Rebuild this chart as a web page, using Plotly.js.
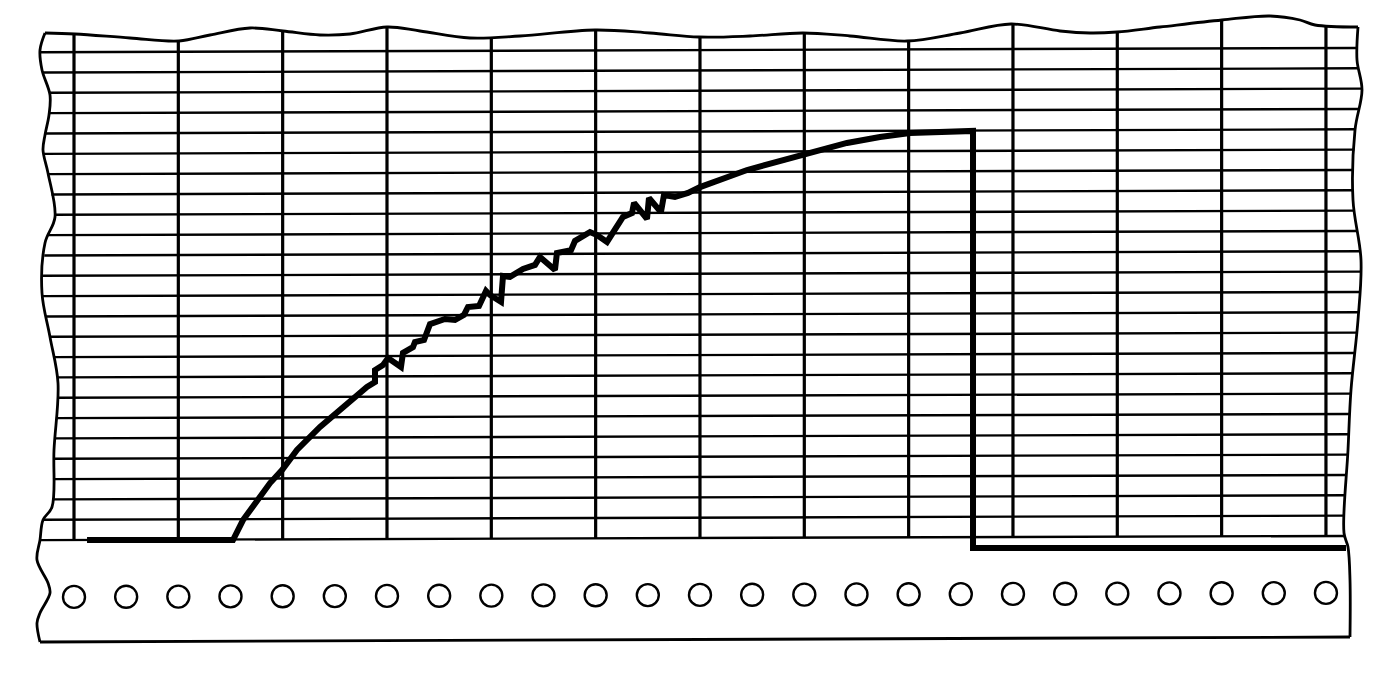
<!DOCTYPE html>
<html>
<head>
<meta charset="utf-8">
<script src="https://cdn.plot.ly/plotly-3.0.1.min.js"></script>
<style>html,body{margin:0;padding:0;background:#fff;}#chart{width:1392px;height:680px;}</style>
</head>
<body>
<div id="chart"></div>
<script>
// ---- Recorded pen trace (x: chart divisions, y: minor chart lines) ----
const recTime = [0.125,1.524,1.620,1.754,1.879,1.994,2.137,2.358,2.578,2.808,2.885,2.885,2.962,3.010,3.134,3.153,3.249,3.268,3.355,3.412,3.556,3.652,3.738,3.776,3.882,3.949,3.987,4.093,4.112,4.179,4.304,4.419,4.466,4.610,4.629,4.764,4.802,4.946,5.013,5.109,5.262,5.348,5.368,5.492,5.511,5.626,5.655,5.760,5.885,6.000,6.451,6.987,7.409,7.725,8.013,8.617,8.617,12.192];
const penLevel = [0,0,0.98,1.97,2.80,3.44,4.43,5.56,6.54,7.53,7.77,8.36,8.61,8.95,8.51,9.20,9.49,9.74,9.84,10.62,10.87,10.82,11.07,11.46,11.51,12.25,12.05,11.71,12.99,12.94,13.33,13.53,13.92,13.28,14.12,14.26,14.71,15.15,15.00,14.66,15.89,16.08,16.58,15.79,16.82,16.13,16.97,16.87,17.07,17.36,18.20,18.94,19.53,19.82,20.02,20.12,-0.39,-0.39];

// ---- Chart paper grid ----
const majorDivisions = [0,1,2,3,4,5,6,7,8,9,10,11,12];
const minorLines = [0,1,2,3,4,5,6,7,8,9,10,11,12,13,14,15,16,17,18,19,20,21,22,23,24];
const sprocketHoles = [0,0.5,1,1.5,2,2.5,3,3.5,4,4.5,5,5.5,6,6.5,7,7.5,8,8.5,9,9.5,10,10.5,11,11.5,12];
const holeLevel = -2.80;
const paperSkew = 0.0164; // scan rotation, lines per division

// ---- Torn paper outline (screen pixel sketch of the strip edges) ----
const topEdgePx = [[45,33],[75,34],[130,38],[179,41],[210,35],[250,28],[283,31],[320,35],[350,34],[387,27],[420,31],[470,38],[520,36],[595,30],[650,33],[699,37],[750,36],[803,33],[850,36],[907,41],[960,33],[1011,24],[1060,31],[1090,33],[1117,32],[1160,27],[1222,20],[1270,16],[1300,20],[1315,25],[1358,27]];
const leftEdgePx = [[45,33],[40,50],[42,70],[50,95],[49,115],[45,135],[43,150],[48,173],[55,217],[45,243],[42,293],[50,337],[58,383],[54,450],[52,507],[43,520],[40,540],[37,560],[48,583],[50,593],[40,613],[37,623],[40,642]];
const rightEdgePx = [[1358,27],[1357,60],[1362,90],[1355,130],[1353,200],[1361,260],[1358,320],[1351,390],[1348,450],[1344,533],[1348,547],[1350,580],[1350,637]];
const bottomEdgePx = [[40,642],[1350,637]];

const PX0 = 74, PXU = 104.33, PY0 = 540, PYU = 20.33;
const ux = px => (px - PX0) / PXU;
const uy = py => (PY0 - py) / PYU;

function edgeXAt(edge, py) {
  for (let i = 0; i < edge.length - 1; i++) {
    const a = edge[i], b = edge[i + 1];
    if (py >= a[1] && py <= b[1]) {
      const t = (py - a[1]) / ((b[1] - a[1]) || 1);
      return a[0] + t * (b[0] - a[0]);
    }
  }
  return edge[py < edge[0][1] ? 0 : edge.length - 1][0];
}
function topYAt(px) {
  for (let i = 0; i < topEdgePx.length - 1; i++) {
    const a = topEdgePx[i], b = topEdgePx[i + 1];
    if (px >= a[0] && px <= b[0]) {
      const t = (px - a[0]) / ((b[0] - a[0]) || 1);
      return a[1] + t * (b[1] - a[1]);
    }
  }
  return topEdgePx[0][1];
}

const shapes = [];
// horizontal minor lines
minorLines.forEach(k => {
  const pyL = PY0 - k * PYU + (PX0 - 40) * paperSkew * PYU / PXU;
  const xl = edgeXAt(leftEdgePx, pyL);
  const pyR = PY0 - k * PYU - (1350 - PX0) * paperSkew * PYU / PXU;
  const xr = edgeXAt(rightEdgePx, pyR);
  const x0 = ux(xl), x1 = ux(xr);
  shapes.push({type: 'line', xref: 'x', yref: 'y', x0: x0, x1: x1,
    y0: k + paperSkew * x0, y1: k + paperSkew * x1,
    line: {color: '#000', width: 2.4}});
});
// vertical major lines
majorDivisions.forEach(d => {
  const px = PX0 + d * PXU;
  shapes.push({type: 'line', xref: 'x', yref: 'y', x0: d, x1: d,
    y0: paperSkew * d, y1: uy(topYAt(px)),
    line: {color: '#000', width: 3.2}});
});

const edgeTrace = (pts, shape) => ({
  x: pts.map(p => ux(p[0])), y: pts.map(p => uy(p[1])),
  type: 'scatter', mode: 'lines', hoverinfo: 'skip', showlegend: false,
  line: {color: '#000', width: 2.8, shape: shape, smoothing: 1}
});

const data = [
  edgeTrace(topEdgePx, 'spline'),
  edgeTrace(leftEdgePx, 'spline'),
  edgeTrace(rightEdgePx, 'spline'),
  edgeTrace(bottomEdgePx, 'linear'),
  {
    x: sprocketHoles, y: sprocketHoles.map(x => holeLevel + paperSkew * x),
    type: 'scatter', mode: 'markers', hoverinfo: 'skip', showlegend: false,
    marker: {symbol: 'circle-open', size: 22, color: '#000', line: {width: 2.4, color: '#000'}}
  },
  {
    x: recTime, y: penLevel, type: 'scatter', mode: 'lines', showlegend: false,
    line: {color: '#000', width: 6}
  }
];

const layout = {
  width: 1392, height: 680,
  margin: {l: 0, r: 0, t: 0, b: 0},
  paper_bgcolor: '#fff', plot_bgcolor: '#fff',
  xaxis: {range: [ux(0), ux(1392)], visible: false, fixedrange: true},
  yaxis: {range: [uy(680), uy(0)], visible: false, fixedrange: true},
  shapes: shapes,
  showlegend: false
};

Plotly.newPlot('chart', data, layout, {displayModeBar: false, staticPlot: true});
</script>
</body>
</html>
